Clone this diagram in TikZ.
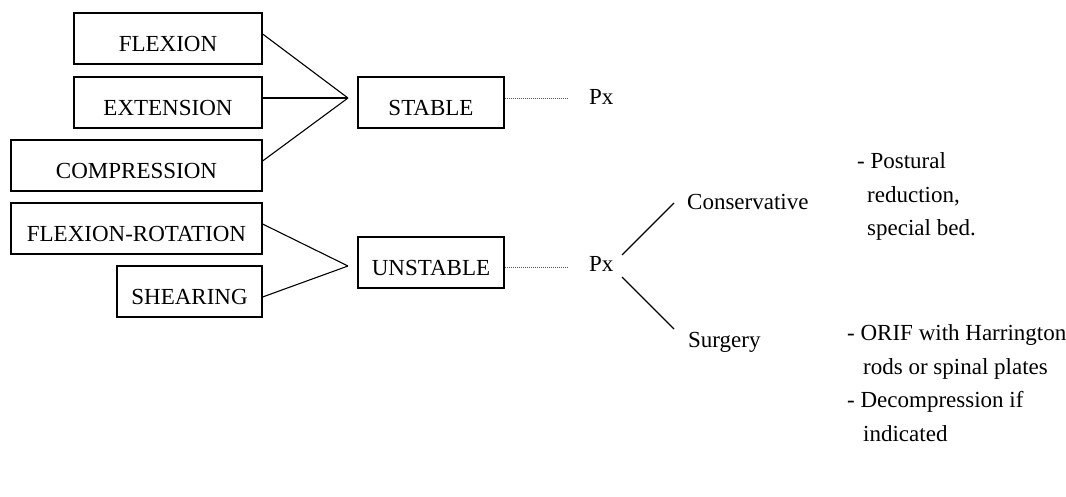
\documentclass[tikz,border=0pt]{standalone}
\usepackage{fontspec}
\setmainfont{Liberation Serif}
\usetikzlibrary{calc}
\begin{document}
\begin{tikzpicture}[x=1pt,y=-1pt,
  every node/.style={font=\fontsize{23}{27}\selectfont},
  box/.style={draw, line width=1.2pt, inner xsep=0pt, inner ysep=0pt,
    text height=38.1pt, text depth=12.9pt, align=center},
  conn/.style={line width=1.1pt},
  dots/.style={line width=0.9pt, gray!70!black, dash pattern=on 1pt off 1pt},
  lbl/.style={anchor=base west, inner sep=0pt}]
\useasboundingbox (0,0) rectangle (1066,496);

% left boxes
\node[box, minimum width=188pt] (flex) at (168,38.5) {FLEXION};
\node[box, minimum width=188pt] (ext) at (168,102.5) {EXTENSION};
\node[box, minimum width=251pt] (comp) at (136.5,165.5) {COMPRESSION};
\node[box, minimum width=251pt] (flrot) at (136.5,228.5) {FLEXION-ROTATION};
\node[box, minimum width=145pt] (shear) at (189.5,291.5) {SHEARING};

% middle boxes
\node[box, minimum width=146pt] (stable) at (431,102.5) {STABLE};
\node[box, minimum width=146pt] (unstable) at (431,262.5) {UNSTABLE};

% junctions
\coordinate (v1) at (348,98);
\coordinate (v2) at (348,266);

\draw[conn] ($(flex.east)+(0,-4.5)$) -- (v1);
\draw[conn] ($(ext.east)+(0,-4.5)$) -- (v1);
\draw[conn] ($(comp.east)+(0,-4.5)$) -- (v1);
\draw[conn] ($(flrot.east)+(0,-4.5)$) -- (v2);
\draw[conn] ($(shear.east)+(0,5.5)$) -- (v2);

% Px
\node[lbl] (px1) at (589,104) {Px};
\node[lbl] (px2) at (589,271) {Px};
\coordinate (d1) at (568,98);
\coordinate (d2) at (568,267);
\draw[dots] ($(stable.east)+(0,-4.5)$) -- (d1);
\draw[dots] ($(unstable.east)+(0,4.5)$) -- (d2);

% branches
\coordinate (b1s) at (622,255);
\coordinate (b1e) at (674,203);
\coordinate (b2s) at (622,277);
\coordinate (b2e) at (674,329);
\draw[conn] (b1s) -- (b1e);
\draw[conn] (b2s) -- (b2e);

\node[lbl] (cons) at (687,209) {Conservative};
\node[lbl] (surg) at (688,347) {Surgery};

% right texts
\node[lbl] (r1) at (857,168) {- Postural};
\node[lbl] (r2) at (867,202) {reduction,};
\node[lbl] (r3) at (867,235) {special bed.};
\node[lbl] (r4) at (847,340) {- ORIF with Harrington};
\node[lbl] (r5) at (863,374) {rods or spinal plates};
\node[lbl] (r6) at (847,407) {- Decompression if};
\node[lbl] (r7) at (863,441) {indicated};
\end{tikzpicture}
\end{document}
